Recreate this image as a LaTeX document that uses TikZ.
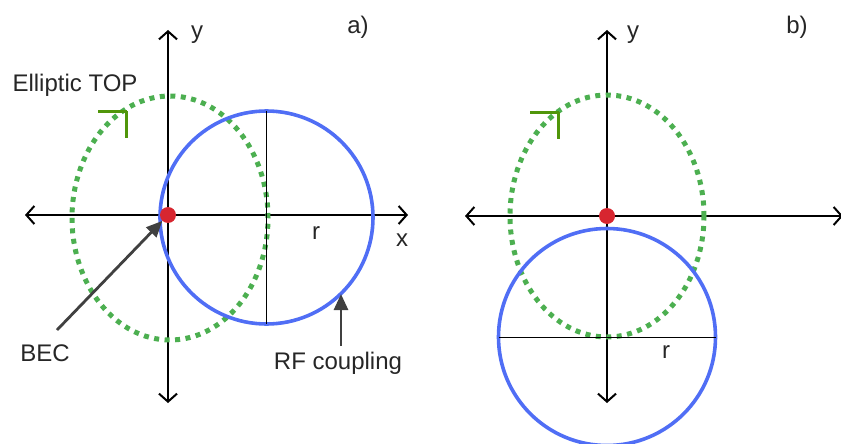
\documentclass[tikz,border=0pt]{standalone}
\usepackage{fontspec}
\setmainfont{Liberation Sans}
\usetikzlibrary{arrows.meta}
\definecolor{ringblue}{RGB}{80,110,245}
\definecolor{topgreen}{RGB}{76,175,80}
\definecolor{markgreen}{RGB}{80,150,10}
\definecolor{becred}{RGB}{215,38,48}
\definecolor{pointgray}{RGB}{64,64,64}
\begin{document}
\begin{tikzpicture}[
  x=1pt, y=-1pt,
  axis/.style={
    line width=2.2pt,
    {Straight Barb[length=8pt,width=18pt,line width=2pt]}-{Straight Barb[length=8pt,width=18pt,line width=2pt]}
  },
  ring/.style={draw=ringblue, line width=3.6pt},
  orbit/.style={draw=topgreen, line width=5pt, dash pattern=on 5pt off 5.5pt},
  topmark/.style={draw=markgreen, line width=3pt},
  pointer/.style={draw=pointgray, line width=2.8pt, -{Triangle[length=16pt,width=14pt]}},
  lbl/.style={font=\fontsize{24}{28}\selectfont, text=black!85, inner sep=1pt},
  atom/.style={circle, fill=becred, minimum size=16pt, inner sep=0pt}
]
\useasboundingbox (0,0) rectangle (841,444);
% panel a
\draw[axis] (25,215) -- (408,215);
\draw[axis] (168,403) -- (168,30);
\draw[orbit] (170,218) ellipse [x radius=98pt, y radius=122pt];
\draw[ring] (266.5,217.5) circle [radius=106.5pt];
\draw[line width=0.8pt] (266,111) -- (266,324);
\draw[topmark] (98,111) -- (127,111) (126,111) -- (126,138);
\node[atom] at (168,215) (beca) {};
\node[lbl] at (197,35) (ya) {y};
\node[lbl] at (402,240) (xa) {x};
\node[lbl] at (316,233) (ra) {r};
\node[lbl] at (358,27) (taga) {a)};
\node[lbl] at (75,85) (top) {Elliptic TOP};
\node[lbl] at (45,353) (bec) {BEC};
\node[lbl] at (338,363) (rf) {RF coupling};
\draw[pointer] (57,330) -- (beca);
\draw[pointer] (341,346) -- (341,294);
% panel b
\draw[axis] (465,216) -- (843,216);
\draw[axis] (607,403) -- (607,30);
\draw[orbit] (607,216) ellipse [x radius=97pt, y radius=121pt];
\draw[ring] (607,337) circle [radius=108.5pt];
\draw[line width=0.8pt] (499,337) -- (716,337);
\draw[topmark] (530,112) -- (559,112) (558,112) -- (558,139);
\node[atom] at (607,216) (becb) {};
\node[lbl] at (633,35) (yb) {y};
\node[lbl] at (847,240) (xb) {x};
\node[lbl] at (666,352) (rb) {r};
\node[lbl] at (797,27) (tagb) {b)};
\end{tikzpicture}
\end{document}
